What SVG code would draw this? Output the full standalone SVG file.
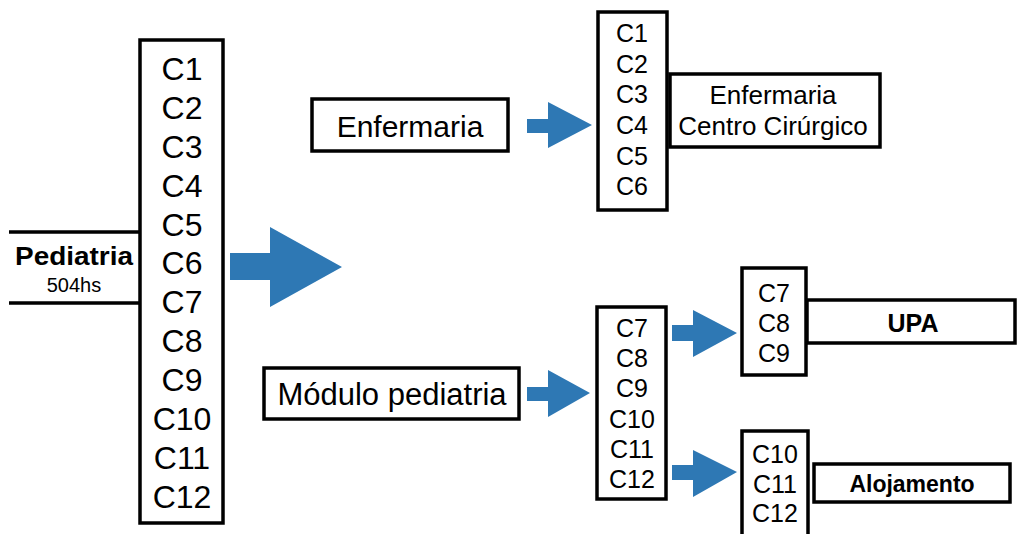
<svg xmlns="http://www.w3.org/2000/svg" width="1017" height="534" viewBox="0 0 1017 534">
<style>
.box{fill:#fff;stroke:#000;stroke-width:3.5}
.t{font-family:"Liberation Sans",Arial,Helvetica,sans-serif;fill:#000;text-anchor:middle}
.b{font-weight:bold}
.arr{fill:#2E78B4}
</style>
<rect width="1017" height="534" fill="#fff"/>
<g id="connectors">
<polygon class="arr" points="230,253 270,253 270,227 342,267 270,307 270,280 230,280"/>
<polygon class="arr" points="527,119 548,119 548,102 592,125 548,148 548,133 527,133"/>
<polygon class="arr" points="527,387 548,387 548,370 590,393 548,417 548,401 527,401"/>
<polygon class="arr" points="672,325 693,325 693,310 737,333 693,357 693,341 672,341"/>
<polygon class="arr" points="672,465 693,465 693,450 737,472 693,497 693,480 672,480"/>
</g>
<g id="pediatria">
<path d="M9,232 H140 M9,303 H140" stroke="#000" stroke-width="3.5" fill="none"/>
<text class="t b" x="74" y="265" font-size="25" textLength="118" lengthAdjust="spacingAndGlyphs">Pediatria</text>
<text class="t" x="74" y="292" font-size="20">504hs</text>
</g>
<g id="main-c">
<rect class="box" x="140" y="40" width="83" height="483"/>
<g class="t" font-size="32">
<text x="182" y="80">C1</text>
<text x="182" y="119">C2</text>
<text x="182" y="158">C3</text>
<text x="182" y="197">C4</text>
<text x="182" y="236">C5</text>
<text x="182" y="274">C6</text>
<text x="182" y="313">C7</text>
<text x="182" y="352">C8</text>
<text x="182" y="391">C9</text>
<text x="182" y="430">C10</text>
<text x="182" y="469">C11</text>
<text x="182" y="508">C12</text>
</g>
</g>
<g id="enfermaria">
<rect class="box" x="312" y="99" width="196" height="52"/>
<text class="t" x="410" y="137" font-size="30">Enfermaria</text>
</g>
<g id="c1-c6">
<rect class="box" x="598" y="12" width="69" height="198"/>
<g class="t" font-size="25">
<text x="632" y="42">C1</text>
<text x="632" y="73">C2</text>
<text x="632" y="103">C3</text>
<text x="632" y="134">C4</text>
<text x="632" y="165">C5</text>
<text x="632" y="195">C6</text>
</g>
</g>
<g id="enfermaria-cc">
<rect class="box" x="670" y="74" width="210" height="73"/>
<text class="t" x="773" y="104" font-size="26">Enfermaria</text>
<text class="t" x="773" y="135" font-size="26">Centro Cirúrgico</text>
</g>
<g id="modulo">
<rect class="box" x="264" y="368" width="255" height="51"/>
<text class="t" x="392" y="405" font-size="31">Módulo pediatria</text>
</g>
<g id="c7-c12">
<rect class="box" x="597" y="307" width="69" height="192"/>
<g class="t" font-size="25">
<text x="632" y="337">C7</text>
<text x="632" y="367">C8</text>
<text x="632" y="397">C9</text>
<text x="632" y="428">C10</text>
<text x="632" y="458">C11</text>
<text x="632" y="488">C12</text>
</g>
</g>
<g id="c7-c9">
<rect class="box" x="742" y="268" width="64" height="107"/>
<g class="t" font-size="25">
<text x="774" y="302">C7</text>
<text x="774" y="332">C8</text>
<text x="774" y="362">C9</text>
</g>
</g>
<g id="upa">
<rect class="box" x="807" y="300" width="208" height="43"/>
<text class="t b" x="913" y="332" font-size="25">UPA</text>
</g>
<g id="c10-c12">
<rect class="box" x="742" y="431" width="66" height="110"/>
<g class="t" font-size="25">
<text x="775" y="463">C10</text>
<text x="775" y="493">C11</text>
<text x="775" y="522">C12</text>
</g>
</g>
<g id="alojamento">
<rect class="box" x="814" y="464" width="196" height="38"/>
<text class="t b" x="912" y="492" font-size="23">Alojamento</text>
</g>
</svg>
